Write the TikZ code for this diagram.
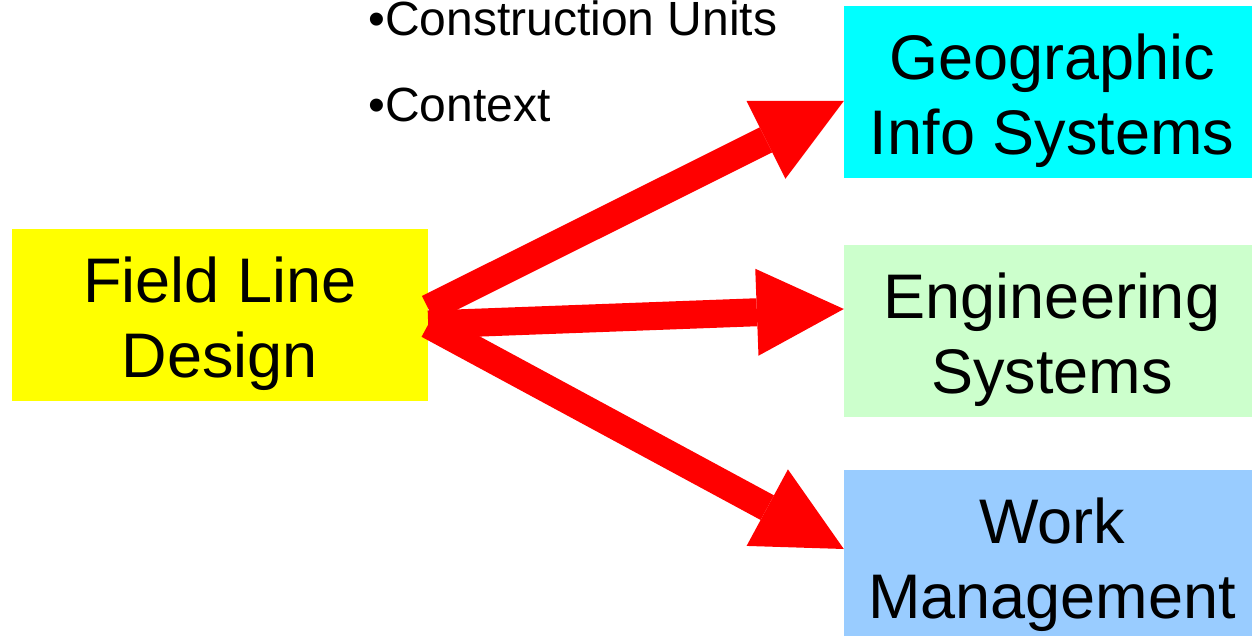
\documentclass[tikz,border=0pt]{standalone}
\usepackage{fontspec}
\setmainfont{Liberation Sans}
\usetikzlibrary{arrows.meta,calc}
\definecolor{fldyellow}{HTML}{FFFF00}
\definecolor{geocyan}{HTML}{00FFFF}
\definecolor{enggreen}{HTML}{CCFFCC}
\definecolor{workblue}{HTML}{99CCFF}
\definecolor{arrowred}{HTML}{FF0000}
% tall invisible strut at the start of a box's first line, to set the text a little low
\newcommand{\boxtop}{\rule{0pt}{64pt}}
\tikzset{
  box/.style={minimum width=416pt, minimum height=172pt, inner sep=0pt,
    align=center, font=\fontsize{63}{75}\selectfont},
  bullet/.style={anchor=base west, inner sep=0pt, font=\fontsize{48}{56}\selectfont},
  bigarrow/.style={draw=arrowred, line width=28pt,
    -{Triangle[length=87pt, width=87pt, line width=0pt]}}
}
\begin{document}
\begin{tikzpicture}[x=1pt, y=-1pt]
  \useasboundingbox (0,0) rectangle (1252,636);
  \clip (0,0) rectangle (1252,636);

  % boxes
  \node[box, fill=fldyellow] (fld)  at (220,315)  {\boxtop Field Line\\Design};
  \node[box, fill=geocyan]   (geo)  at (1052,92)  {\boxtop Geographic\\Info Systems};
  \node[box, fill=enggreen]  (eng)  at (1052,331) {\boxtop Engineering\\Systems};
  \node[box, fill=workblue]  (work) at (1052,556) {\boxtop Work\\Management};

  % notes
  \node[bullet] (cu)  at (368,36)  {•Construction Units};
  \node[bullet] (ctx) at (368,122) {•Context};

  % arrow ends
  \coordinate (s1) at ($(fld.east)+(0,-6.5)$);
  \coordinate (s2) at ($(fld.east)+(0,9.5)$);
  \coordinate (s3) at ($(fld.east)+(0,9.5)$);
  \coordinate (t1) at ($(geo.west)+(0,9)$);
  \coordinate (t2) at ($(eng.west)+(0,-22)$);
  \coordinate (t3) at ($(work.west)+(0,-7)$);

  % arrows
  \draw[bigarrow] (s1) -- (t1);
  \draw[bigarrow] (s2) -- (t2);
  \draw[bigarrow] (s3) -- (t3);
\end{tikzpicture}
\end{document}
